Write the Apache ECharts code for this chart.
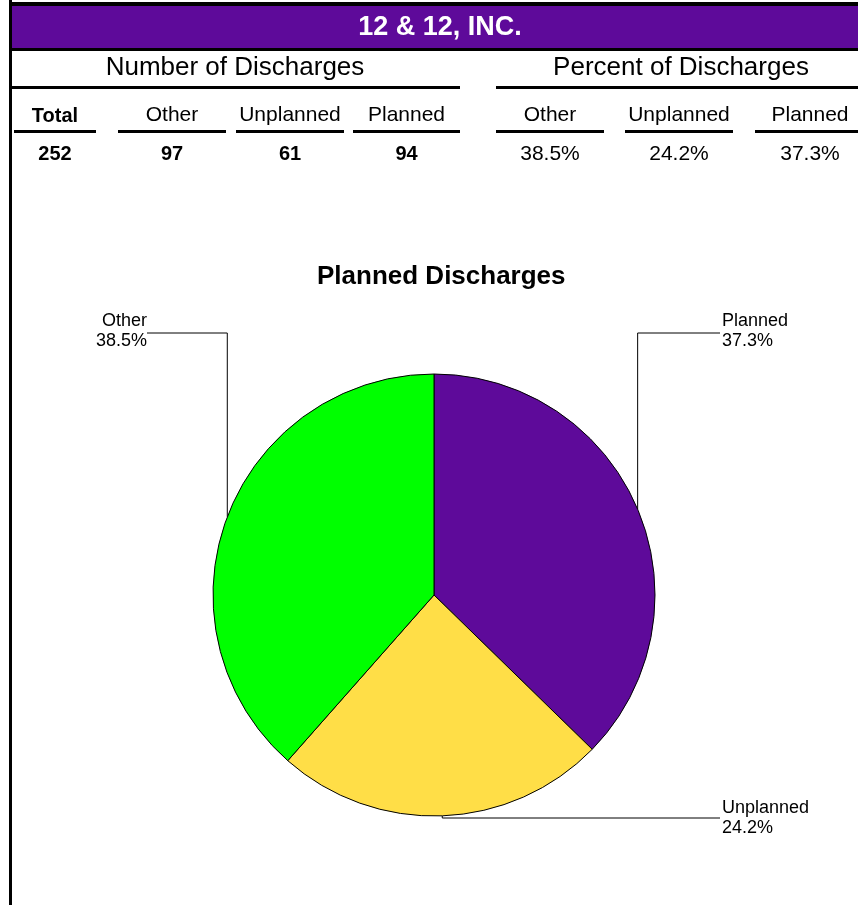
<!DOCTYPE html>
<html>
<head>
<meta charset="utf-8">
<script src="https://cdn.jsdelivr.net/npm/echarts@6/dist/echarts.min.js"></script>
<style>
  html, body { margin: 0; padding: 0; background: #fff; }
  #main { width: 858px; height: 905px; }
</style>
</head>
<body>
<div id="main"></div>
<script>
// discharge types as listed in the table
var categories = ['Other', 'Unplanned', 'Planned'];
var counts = [97, 61, 94];
// order the slices go round the pie (clockwise from 12 o'clock)
var pieOrder = ['Planned', 'Unplanned', 'Other'];

var purple = '#5E0A9A';
var sliceColors = { Planned: purple, Unplanned: '#FFDE47', Other: '#00FF00' };
var FONT = '"Liberation Sans", Arial, sans-serif';

var total = counts.reduce(function (a, b) { return a + b; }, 0);
var pct = counts.map(function (v) { return (v / total * 100).toFixed(1) + '%'; });

var chart = echarts.init(document.getElementById('main'), null, { renderer: 'canvas' });

// header table ---------------------------------------------------------
function txt(x, y, s, size, bold, color) {
    return {
        type: 'text', x: x, y: y, silent: true,
        style: {
            text: s, align: 'center', verticalAlign: 'middle',
            fontFamily: FONT, fontSize: size, fontWeight: bold ? 'bold' : 'normal',
            fill: color || '#000'
        }
    };
}
function bar(x1, x2, y, h) {
    return { type: 'rect', silent: true, shape: { x: x1, y: y, width: x2 - x1, height: h }, style: { fill: '#000' } };
}

var graphics = [];
graphics.push({ type: 'rect', silent: true, shape: { x: 9, y: 2, width: 860, height: 4 }, style: { fill: '#000' } });
graphics.push({ type: 'rect', silent: true, shape: { x: 12, y: 6, width: 860, height: 42 }, style: { fill: purple } });
graphics.push(bar(9, 870, 48, 3));
graphics.push({ type: 'rect', silent: true, shape: { x: 9, y: 0, width: 3, height: 905 }, style: { fill: '#000' } });
graphics.push(txt(440, 28, '12 & 12, INC.', 27, true, '#fff'));

graphics.push(txt(235, 68, 'Number of Discharges', 26, false));
graphics.push(txt(681, 68, 'Percent of Discharges', 26, false));
graphics.push(bar(12, 460, 86, 3));
graphics.push(bar(496, 870, 86, 3));

// Total column
graphics.push(txt(55, 116, 'Total', 20, true));
graphics.push(bar(14, 96, 130, 3));
graphics.push(txt(55, 154, String(total), 20, true));

var countCols = [[118, 226], [236, 344], [353, 460]];
var pctCols = [[496, 604], [625, 733], [755, 865]];
categories.forEach(function (c, i) {
    var a = countCols[i], b = pctCols[i];
    var ca = (a[0] + a[1]) / 2, cb = i === 2 ? 810 : (b[0] + b[1]) / 2;
    graphics.push(txt(ca, 115, c, 21, false));
    graphics.push(bar(a[0], a[1], 130, 3));
    graphics.push(txt(ca, 154, String(counts[i]), 20, true));
    graphics.push(txt(cb, 115, c, 21, false));
    graphics.push(bar(b[0], b[1], 130, 3));
    graphics.push(txt(cb, 154, pct[i], 21, false));
});

// pie --------------------------------------------------------------------
var pieData = pieOrder.map(function (name) {
    var i = categories.indexOf(name);
    return { name: name, value: counts[i], itemStyle: { color: sliceColors[name] } };
});

// where each label sits and at what height its leader runs across
var labelSpots = {
    Planned:   { x: 722, y: 311, lineY: 333, align: 'left' },
    Unplanned: { x: 722, y: 798, lineY: 818, align: 'left' },
    Other:     { x: 147, y: 311, lineY: 333, align: 'right' }
};

chart.setOption({
    animation: false,
    title: {
        text: 'Planned Discharges',
        left: 312, top: 259,
        textStyle: { fontFamily: FONT, fontSize: 26, fontWeight: 'bold', color: '#000' }
    },
    graphic: graphics,
    series: [{
        type: 'pie',
        center: [434, 595],
        radius: 221,
        startAngle: 90,
        clockwise: true,
        silent: true,
        data: pieData,
        itemStyle: { borderColor: '#000', borderWidth: 1 },
        emphasis: { disabled: true },
        label: {
            show: true,
            position: 'outside',
            formatter: function (p) { return p.name + '\n' + pct[categories.indexOf(p.name)]; },
            fontFamily: FONT, fontSize: 18, lineHeight: 20, color: '#000'
        },
        labelLine: { show: true, length: 20, length2: 20, lineStyle: { color: '#000', width: 1 } },
        labelLayout: function (params) {
            var name = pieOrder[params.dataIndex];
            var s = labelSpots[name];
            var p0 = params.labelLinePoints ? params.labelLinePoints[0] : null;
            var out = { x: s.x, y: s.y, align: s.align, verticalAlign: 'top' };
            if (p0) {
                var endX = s.align === 'left' ? s.x - 2 : s.x;
                out.labelLinePoints = [[p0[0], p0[1]], [p0[0], s.lineY], [endX, s.lineY]];
            }
            return out;
        }
    }]
});
</script>
</body>
</html>
